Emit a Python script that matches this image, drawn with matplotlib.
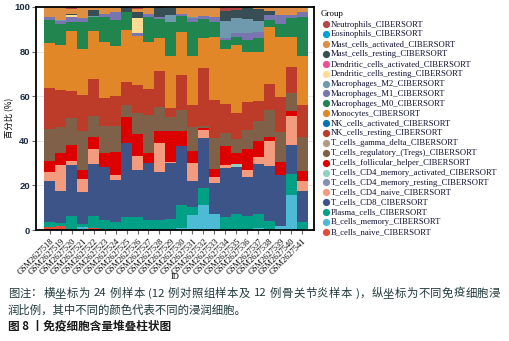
import re
import matplotlib
matplotlib.use('Agg')
import matplotlib.pyplot as plt
import numpy as np

# sample ids on the x axis
samples = ['GSM26275%02d' % n for n in range(18, 42)]

# percentages per cell type, one value per sample
b_naive = [1.2, 1.8, 0, 0, 0.8, 0.4, 0, 0, 0, 0, 0, 0, 0, 0, 0, 0, 0, 0, 0, 0, 0, 0, 0, 0]
b_memory = [0, 0, 0, 1.5, 0, 0, 0, 0, 0, 0, 0, 0, 0.7, 6.7, 11.2, 7.2, 0, 0, 0, 0.7, 0, 1.8, 15.7, 0]
plasma = [2.4, 1.4, 6.3, 1.2, 5.5, 4.1, 3.6, 5.9, 6, 4.5, 4.5, 4.9, 10.3, 3.5, 7.5, 0, 5.7, 7.2, 6.3, 6.5, 4, 0, 9.4, 3.7]
cd8 = [18.5, 14.5, 23, 14.4, 23.5, 23.6, 19, 33.2, 20.8, 25.5, 21.7, 25.3, 26.7, 11.8, 22.4, 14, 22.3, 21.2, 17.6, 22.4, 24.7, 22.9, 13, 13.8]
cd4_naive = [3.8, 11.3, 1.8, 5.9, 6.7, 0, 2.1, 0, 6.6, 0, 13, 0.4, 0, 7.9, 3.7, 2.7, 1.2, 0, 3, 3.3, 11.4, 0, 13, 4.5]
cd4_mem_rest = [0] * 24
cd4_mem_act = [0, 0, 0, 0, 0, 0, 0, 0, 0, 0, 0, 0, 0, 0, 0, 0, 0, 1.2, 0, 0, 0, 0, 0, 0]
tfh = [5.1, 5.4, 7.2, 4, 5.3, 6.5, 10.2, 11.6, 9.5, 4.6, 5.3, 13.8, 6.7, 5.5, 1.1, 3.3, 8.5, 4.8, 9.3, 7, 1.8, 6, 2.2, 4.5]
tregs = [14.4, 11.6, 12, 17.4, 9.4, 12.2, 11.7, 5.3, 9.4, 16.9, 10.8, 6.4, 9.4, 10.9, 0.6, 14.2, 5.7, 6.3, 8.6, 9, 11.9, 13.4, 8, 15.4]
gamma_delta = [0] * 24
nk_rest = [18.5, 16.8, 11.9, 16, 16.4, 12.5, 13.4, 10.4, 12.6, 11.6, 16, 3.8, 15.7, 9.8, 26, 16.9, 13.2, 11.9, 12.5, 9, 11.7, 15.4, 11.7, 14.2]
nk_act = [0] * 24
monocytes = [20, 20, 26.9, 20.6, 21.5, 25, 22.4, 23.5, 22.2, 21.3, 14.9, 23.4, 19.4, 21.9, 13.8, 28.2, 24.6, 30.4, 22.7, 22.1, 25.7, 27.2, 13.7, 21.9]
mac_m0 = [10.1, 9.4, 4.2, 12.3, 6.4, 11.2, 11.9, 7.7, 0, 10.9, 8.3, 15.4, 7.1, 15.4, 8.5, 6.9, 4, 3.7, 5.2, 6.3, 3, 5.7, 8.2, 17.3]
mac_m1 = [1.4, 1.4, 2.2, 1.9, 0, 1.2, 3.3, 0, 1.1, 1.5, 0.9, 0, 0.9, 1.5, 1, 2, 0.7, 1.8, 3, 2.4, 2.2, 4, 1.5, 2.4]
mac_m2 = [0, 0.7, 0, 0, 0.3, 0, 0, 0, 0, 0, 0, 3, 0, 0.8, 0, 0, 7.9, 6.4, 6.3, 5, 0, 0, 0, 0]
dc_rest = [0, 0, 1.1, 0, 0, 0, 0, 0, 6.7, 0, 0, 0, 0, 0, 0, 0, 0, 0, 0, 0, 0, 0, 0, 0]
dc_act = [0] * 24
mast_rest = [0, 0, 0.3, 0, 3, 0, 0, 2.4, 2.7, 0, 4.6, 3.2, 0, 0, 0, 0, 4.3, 3.7, 5.5, 5.2, 1.7, 0, 0, 0]
mast_act = [4.6, 5.7, 2.1, 4.8, 1.2, 3.3, 2.4, 0, 1.4, 3.2, 0, 0.4, 3.1, 4.3, 4.2, 4.6, 0, 0, 0, 1.1, 1.9, 3.6, 3.6, 2.3]
eosinophils = [0] * 24
neutrophils = [0, 0, 0.9, 0, 0, 0, 0, 0, 1, 0, 0, 0, 0, 0, 0, 0, 1.9, 1.4, 0, 0, 0, 0, 0, 0]

# stacking order, bottom -> top
groups = [
    ('B_cells_naive_CIBERSORT', b_naive, '#E64B35'),
    ('B_cells_memory_CIBERSORT', b_memory, '#4DBBD5'),
    ('Plasma_cells_CIBERSORT', plasma, '#00A087'),
    ('T_cells_CD8_CIBERSORT', cd8, '#3C5488'),
    ('T_cells_CD4_naive_CIBERSORT', cd4_naive, '#F39B7F'),
    ('T_cells_CD4_memory_resting_CIBERSORT', cd4_mem_rest, '#8491B4'),
    ('T_cells_CD4_memory_activated_CIBERSORT', cd4_mem_act, '#91D1C2'),
    ('T_cells_follicular_helper_CIBERSORT', tfh, '#DC0000'),
    ('T_cells_regulatory_(Tregs)_CIBERSORT', tregs, '#7E6148'),
    ('T_cells_gamma_delta_CIBERSORT', gamma_delta, '#B09C85'),
    ('NK_cells_resting_CIBERSORT', nk_rest, '#BC3C29'),
    ('NK_cells_activated_CIBERSORT', nk_act, '#0072B5'),
    ('Monocytes_CIBERSORT', monocytes, '#E18727'),
    ('Macrophages_M0_CIBERSORT', mac_m0, '#20854E'),
    ('Macrophages_M1_CIBERSORT', mac_m1, '#7876B1'),
    ('Macrophages_M2_CIBERSORT', mac_m2, '#6F99AD'),
    ('Dendritic_cells_resting_CIBERSORT', dc_rest, '#FFDC91'),
    ('Dendritic_cells_activated_CIBERSORT', dc_act, '#EE4C97'),
    ('Mast_cells_resting_CIBERSORT', mast_rest, '#374E55'),
    ('Mast_cells_activated_CIBERSORT', mast_act, '#DF8F44'),
    ('Eosinophils_CIBERSORT', eosinophils, '#00A1D5'),
    ('Neutrophils_CIBERSORT', neutrophils, '#B24745'),
]

caption1 = '图注：横坐标为 24 例样本 (12 例对照组样本及 12 例骨关节炎样本 )，纵坐标为不同免疫细胞浸'
caption2 = '润比例，其中不同的颜色代表不同的浸润细胞。'
caption3 = '图 8 丨免疫细胞含量堆叠柱状图'

W, H = 509, 341
fig = plt.figure(figsize=(W / 100, H / 100), dpi=100)
ax = fig.add_axes([36 / W, 1 - 230 / H, (314 - 36) / W, (230 - 7) / H])

x = np.arange(len(samples))
bottom = np.zeros(len(samples))
for name, vals, col in groups:
    vals = np.array(vals, dtype=float)
    ax.bar(x, vals, 1.0, bottom=bottom, color=col, linewidth=0, zorder=2)
    bottom += vals

ax.set_xlim(-1.23, 24.05)
ax.set_ylim(0, 100)
ax.set_yticks([0, 20, 40, 60, 80, 100])
ax.yaxis.grid(True, color='#e6e6e6', lw=0.7, zorder=0)
ax.set_axisbelow(True)
for s in ax.spines.values():
    s.set_linewidth(1.3)
    s.set_color('black')
    s.set_zorder(3)

ax.tick_params(axis='y', length=3, width=0.8, color='#666666', pad=1.5,
               labelsize=6.8, labelcolor='#1c2a44')
for lab in ax.get_yticklabels():
    lab.set_fontweight('bold')
    lab.set_family('Liberation Sans')
ax.set_xticks(x)
ax.set_xticklabels(samples, rotation=45, ha='right', rotation_mode='anchor',
                   fontsize=6, family='Liberation Serif')
ax.tick_params(axis='x', length=3, width=0.8, color='#666666', pad=2)

cjk = ['Noto Sans CJK SC', 'DejaVu Sans']

# overlay in pixel coordinates for axis titles, legend and caption
ov = fig.add_axes([0, 0, 1, 1])
ov.set_xlim(0, W)
ov.set_ylim(H, 0)
ov.axis('off')

ov.text(10, 118, '百分比 (%)', rotation=90, family=cjk, fontsize=6, ha='center', va='center')
ov.text(175.5, 277, 'ID', fontsize=6, family='Liberation Serif', ha='center', va='center')

ov.text(321, 14.5, 'Group', fontsize=6.4, family='Liberation Serif', ha='left', va='center')
y0, dy = 24.3, 9.88
for k, (name, vals, col) in enumerate(groups[::-1]):
    yy = y0 + k * dy
    ov.plot([326], [yy], 'o', color=col, markersize=5.2, markeredgewidth=0)
    ov.text(330.5, yy + 0.3, name, fontsize=6.2, family='Liberation Serif',
            ha='left', va='center', color='#111133')

fs = 8.2
renderer = fig.canvas.get_renderer()

# first caption line is justified between x=8 and x=500
tokens = re.findall(r'[0-9A-Za-z()]+| |.', caption1)
pieces, widths = [], []
for tok in tokens:
    if tok == ' ':
        pieces.append(None)
        widths.append(fs * 1.39 * 0.25)
        continue
    t = ov.text(0, 293.5, tok, fontsize=fs, family=cjk, ha='left', va='center', color='#203a3a')
    pieces.append(t)
    widths.append(t.get_window_extent(renderer).width)
gap = (492 - sum(widths)) / (len(tokens) - 1)
xx = 8
for t, w in zip(pieces, widths):
    if t is not None:
        t.set_x(xx)
    xx += w + gap

ov.text(8, 310, caption2, fontsize=fs, family=cjk, ha='left', va='center', color='#203a3a')
ov.text(8, 326.5, caption3, fontsize=fs + 0.2, family=cjk, ha='left', va='center',
        color='#1a1a1a', fontweight='bold')

fig.savefig('out.png', dpi=100)
